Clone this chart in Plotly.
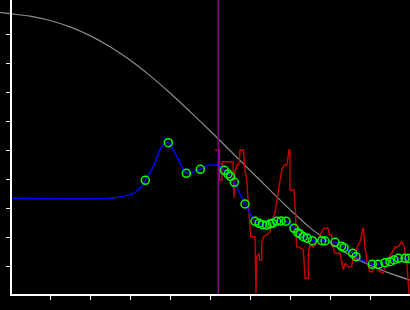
import plotly.graph_objects as go

# ---- data (x: 0..100, y: 0..~101.7) ----
gray_x = [-2.5, 0, 5, 10, 15, 20, 25, 30, 35, 40, 45, 50, 55, 60, 65, 70, 75, 80, 85, 90, 95, 100]
gray_y = [97.48, 97.0, 96.14, 94.64, 92.44, 89.44, 85.64, 81.04, 75.64, 69.64, 63.24, 56.64,
          49.84, 42.99, 36.14, 29.44, 23.24, 18.04, 13.74, 10.24, 7.44, 5.14]

circle_x = [33.83, 39.58, 44.08, 47.58, 53.58, 54.5, 55.13, 56.08, 58.75, 61.25, 62.25, 63.13,
            64.18, 65.0, 65.58, 66.68, 67.75, 69.0, 71.0, 71.93, 72.5, 73.33, 74.33, 75.58,
            77.93, 78.75, 81.25, 82.88, 83.5, 85.68, 86.5, 90.58, 92.08, 93.75, 95.0, 96.0,
            97.08, 98.75, 99.75]
circle_y = [39.55, 52.52, 41.97, 43.34, 43.0, 41.72, 40.86, 38.86, 31.38, 25.41, 24.72, 24.24,
            24.07, 24.48, 24.72, 25.41, 25.52, 25.45, 23.0, 21.48, 21.03, 20.1, 19.55, 18.72,
            18.72, 18.62, 18.17, 16.79, 16.31, 14.38, 13.21, 10.59, 10.59, 11.14, 11.48, 12.07,
            12.66, 12.66, 12.66]

blue_x = [0, 25, 27.5, 30.83, 32.5, 33.83, 35.83, 37.93, 39.58, 41.68, 44.08, 45.75, 47.58,
          49.18, 50.5, 52.08] + circle_x[4:]
blue_y = [33.34, 33.34, 33.79, 35.07, 36.79, 39.55, 44.24, 51.14, 52.52, 47.69, 41.97, 42.41,
          43.34, 44.59, 44.83, 44.83] + circle_y[4:]

red_x = [51.25, 52.38, 52.38, 53.0, 53.0, 55.75, 56.0, 56.25, 56.75, 57.08, 57.33, 57.5, 58.33,
         58.5, 58.75, 59.18, 59.58, 60.0, 60.18, 61.25, 61.5, 61.68, 62.33, 62.33, 62.93, 62.93,
         63.33, 64.18, 65.0, 65.83, 66.25, 66.68, 67.5, 67.93, 68.58, 69.18, 69.43, 69.75, 70.0,
         70.0, 71.0, 71.25, 71.43, 71.5, 71.68, 72.08, 73.33, 73.75, 74.58, 74.58, 75.0, 75.83,
         76.68, 77.5, 78.5, 79.58, 79.83, 80.43, 80.43, 81.25, 82.5, 83.33, 83.75, 84.58, 85.43,
         85.83, 86.25, 86.83, 87.68, 88.18, 88.33, 88.75, 89.33, 90.0, 90.58, 90.83, 91.68, 92.5,
         93.33, 93.75, 94.58, 95.0, 95.43, 96.25, 97.08, 97.93, 98.58, 98.75, 99.18, 99.75]
red_y = [50.0, 50.0, 39.66, 39.66, 45.97, 45.97, 33.34, 42.52, 44.83, 44.83, 45.97, 50.0, 50.0,
         45.41, 43.1, 39.66, 32.76, 25.86, 20.1, 20.1, 0.0, 13.21, 14.38, 12.07, 12.07, 17.83,
         20.1, 20.69, 21.83, 27.0, 28.17, 32.17, 38.52, 43.1, 44.83, 44.83, 46.55, 50.0, 50.0,
         36.21, 36.21, 31.62, 27.59, 21.38, 16.66, 16.66, 15.52, 5.76, 5.76, 14.38, 17.24, 16.66,
         17.83, 20.69, 23.0, 23.0, 20.69, 20.69, 17.83, 14.38, 14.38, 8.62, 10.93, 9.76, 9.76,
         14.38, 11.48, 16.66, 18.97, 23.0, 23.0, 16.66, 10.93, 8.03, 8.03, 9.21, 9.21, 8.03,
         7.48, 9.76, 10.93, 13.79, 14.38, 16.66, 16.66, 18.38, 16.66, 14.38, 12.07, 0.0]

marker_x = 52.07
x_ticks = [10, 20, 30, 40, 50, 60, 70, 80, 90]
y_ticks = [10, 20, 30, 40, 50, 60, 70, 80, 90]

W, H = 410, 310
fig = go.Figure()
fig.add_trace(go.Scatter(x=gray_x, y=gray_y, mode="lines", line=dict(color="#8a8a8a", width=1.2, shape="spline", smoothing=1),
                         hoverinfo="skip"))
fig.add_trace(go.Scatter(x=red_x, y=red_y, mode="lines", line=dict(color="#c80000", width=1.4),
                         hoverinfo="skip"))
fig.add_trace(go.Scatter(x=blue_x, y=blue_y, mode="lines", line=dict(color="#0000ff", width=1.5, shape="spline", smoothing=0.8),
                         hoverinfo="skip"))
fig.add_trace(go.Scatter(x=circle_x, y=circle_y, mode="markers",
                         marker=dict(symbol="circle-open", size=8, color="#00ff00", line=dict(width=1.5, color="#00ff00")),
                         hoverinfo="skip"))

fig.add_vline(x=marker_x, line=dict(color="#880088", width=1.5), layer="above")
# x axis line from the y axis to the right edge
fig.add_shape(type="line", xref="x", yref="paper", x0=0, x1=100, y0=15 / H, y1=15 / H,
              line=dict(color="white", width=2), layer="above")

fig.update_layout(
    width=W, height=H, margin=dict(l=0, r=0, t=0, b=0),
    paper_bgcolor="black", plot_bgcolor="black", showlegend=False,
    xaxis=dict(domain=[0, 1], range=[-2.5, 100], showgrid=False, zeroline=False, showline=False,
               ticks="outside", ticklen=4, tickwidth=1, tickcolor="white", tickvals=x_ticks,
               showticklabels=False),
    yaxis=dict(domain=[15 / H, 1], range=[0, 295 / 2.9], anchor="free", position=10.5 / W,
               showgrid=False, zeroline=False, showline=True, linecolor="white", linewidth=2,
               ticks="outside", ticklen=4, tickwidth=1, tickcolor="white", tickvals=y_ticks,
               showticklabels=False),
)
fig.write_html("out.html")
